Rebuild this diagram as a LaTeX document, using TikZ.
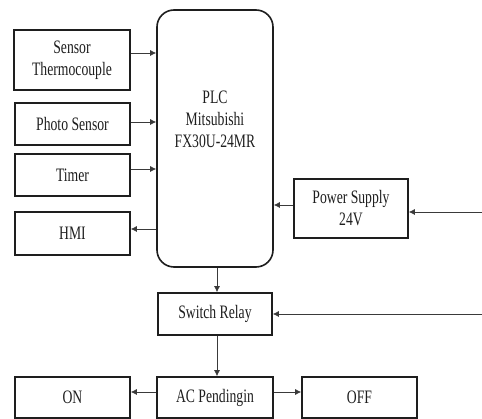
\documentclass[tikz,border=0pt]{standalone}
\usepackage{fontspec}
\setmainfont[FakeStretch=0.72]{Liberation Serif}
\usepackage{tikz}
\usetikzlibrary{arrows.meta,positioning,calc}
\definecolor{ink}{HTML}{1E1E1E}
\definecolor{wire}{HTML}{3A3A3A}

\begin{document}
\begin{tikzpicture}[x=1pt,y=-1pt,>=Latex,
 blk/.style={draw=ink,line width=1.6pt,align=center,inner sep=0pt,
  font=\fontsize{19}{22}\selectfont,text=ink},
 sig/.style={->,line width=0.75pt,draw=wire,-{Latex[length=6pt,width=6pt]}}]
 \useasboundingbox (0,0) rectangle (482,419);
 % inputs and HMI
 \node[blk,minimum width=116pt,minimum height=60pt] (sensor) at (72,60) {Sensor\\Thermocouple};
 \node[blk,minimum width=115pt,minimum height=42pt] (photo) at (72.5,124) {Photo Sensor};
 \node[blk,minimum width=115pt,minimum height=42pt] (timer) at (72.5,175) {Timer};
 \node[blk,minimum width=115pt,minimum height=43pt] (hmi) at (72.5,233.5) {HMI};
 % controller
 \node[blk,rounded corners=17pt,minimum width=116pt,minimum height=257pt] (plc) at (215,138.5) {PLC\\Mitsubishi\\FX30U-24MR\\[16pt]};
 \node[blk,minimum width=114pt,minimum height=59pt] (psu) at (351,208.5) {Power Supply\\24V};
 \node[blk,minimum width=114pt,minimum height=42pt] (relay) at (215,314) {Switch Relay};
 % outputs
 \node[blk,minimum width=116pt,minimum height=41pt] (ac) at (215,397.5) {AC Pendingin};
 \node[blk,minimum width=115pt,minimum height=41pt] (on) at (72.5,397.5) {ON};
 \node[blk,minimum width=115pt,minimum height=41pt] (off) at (359.5,397.5) {OFF};
 \coordinate (pin) at (482,212);
 \coordinate (rin) at (482,314);

 \draw[sig] ([yshift=7pt]sensor.east) -- ([yshift=7pt]sensor.east -| plc.west);
 \draw[sig] ([yshift=2pt]photo.east) -- ([yshift=2pt]photo.east -| plc.west);
 \draw[sig] ([yshift=6pt]timer.east) -- ([yshift=6pt]timer.east -| plc.west);
 \draw[sig] ([yshift=4.5pt]hmi.east -| plc.west) -- ([yshift=4.5pt]hmi.east);
 \draw[sig] (pin) -- (pin -| psu.east);
 \draw[sig] ([yshift=3.5pt]psu.west) -- ([yshift=3.5pt]psu.west -| plc.east);
 \draw[sig] ([xshift=2pt]plc.south) -- ([xshift=2pt]relay.north);
 \draw[sig] (rin) -- (rin -| relay.east);
 \draw[sig] ([xshift=2pt]relay.south) -- ([xshift=2pt]ac.north);
 \draw[sig] ([yshift=5.5pt]ac.west) -- ([yshift=5.5pt]ac.west -| on.east);
 \draw[sig] ([yshift=5.5pt]ac.east) -- ([yshift=5.5pt]ac.east -| off.west);
\end{tikzpicture}
\end{document}
